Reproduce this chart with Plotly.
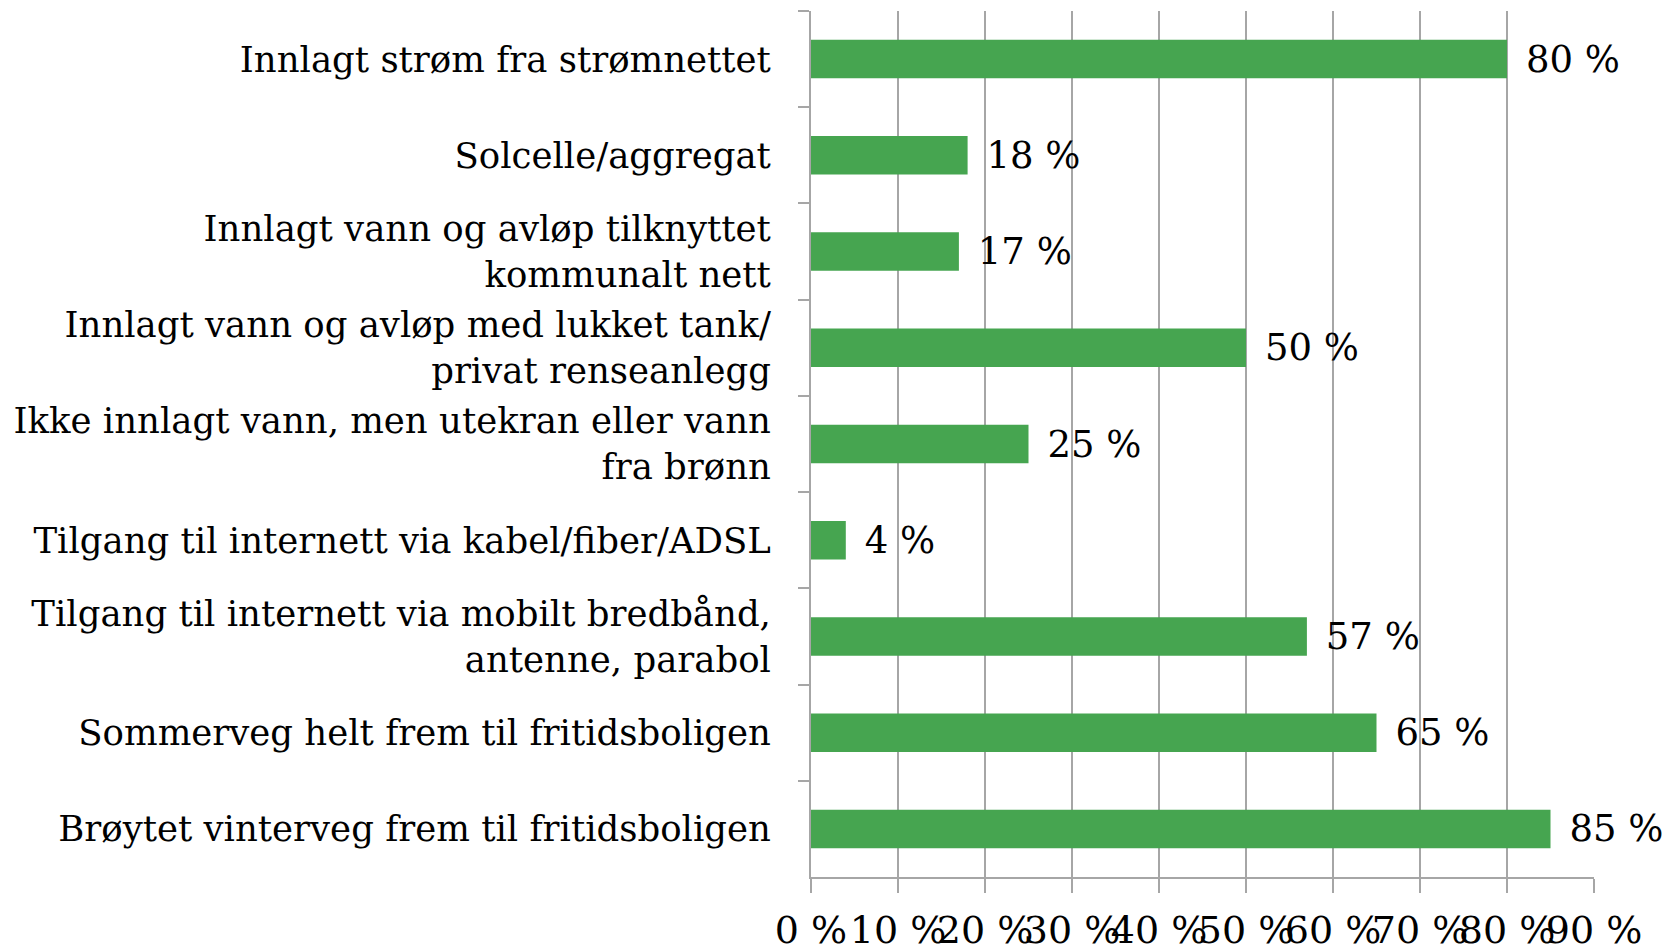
import plotly.graph_objects as go

categories = [
    "Innlagt strøm fra strømnettet",
    "Solcelle/aggregat",
    "Innlagt vann og avløp tilknyttet<br>kommunalt nett",
    "Innlagt vann og avløp med lukket tank/<br>privat renseanlegg",
    "Ikke innlagt vann, men utekran eller vann<br>fra brønn",
    "Tilgang til internett via kabel/fiber/ADSL",
    "Tilgang til internett via mobilt bredbånd,<br>antenne, parabol",
    "Sommerveg helt frem til fritidsboligen",
    "Brøytet vinterveg frem til fritidsboligen",
]
values = [80, 18, 17, 50, 25, 4, 57, 65, 85]
x_ticks = [0, 10, 20, 30, 40, 50, 60, 70, 80, 90]
x_tick_labels = [f"{v} %" for v in x_ticks]

FONT = "DejaVu Serif"
FS_CAT = 35.5
FS_VAL = 37
GRID = "#a6a6a6"

fig = go.Figure()
fig.add_trace(go.Bar(
    y=categories,
    x=values,
    orientation="h",
    marker=dict(color="#46a550", line=dict(width=0)),
    text=[f"\u2004\u200a{v} %" for v in values],
    textposition="outside",
    constraintext="none",
    cliponaxis=False,
    textfont=dict(family=FONT, size=FS_VAL, color="#000000"),
    width=0.4,
))

# page body has an 8px margin; figure sized so the plot sits where the reference has it
fig.update_layout(
    width=1657,
    height=944,
    margin=dict(l=803, r=71, t=3, b=75, autoexpand=False),
    paper_bgcolor="white",
    plot_bgcolor="white",
    showlegend=False,
    font=dict(family=FONT, size=FS_CAT, color="#000000"),
)
fig.update_xaxes(
    range=[0, 90],
    tickvals=x_ticks,
    ticktext=x_tick_labels,
    tickangle=0,
    automargin=False,
    showgrid=True,
    gridcolor=GRID,
    gridwidth=2,
    zeroline=False,
    showline=True,
    linecolor=GRID,
    linewidth=2,
    ticks="outside",
    ticklen=14,
    tickwidth=2,
    tickcolor=GRID,
    ticklabelstandoff=4,
    tickfont=dict(family=FONT, size=38, color="#000000"),
)
fig.update_yaxes(
    categoryorder="array",
    categoryarray=categories,
    autorange="reversed",
    automargin=False,
    showline=True,
    linecolor=GRID,
    linewidth=2,
    ticks="outside",
    tickson="boundaries",
    ticklen=11,
    tickwidth=2,
    tickcolor=GRID,
    showgrid=False,
    ticklabelstandoff=31,
    tickfont=dict(family=FONT, size=FS_CAT, color="#000000"),
)

fig.write_html("out.html")
